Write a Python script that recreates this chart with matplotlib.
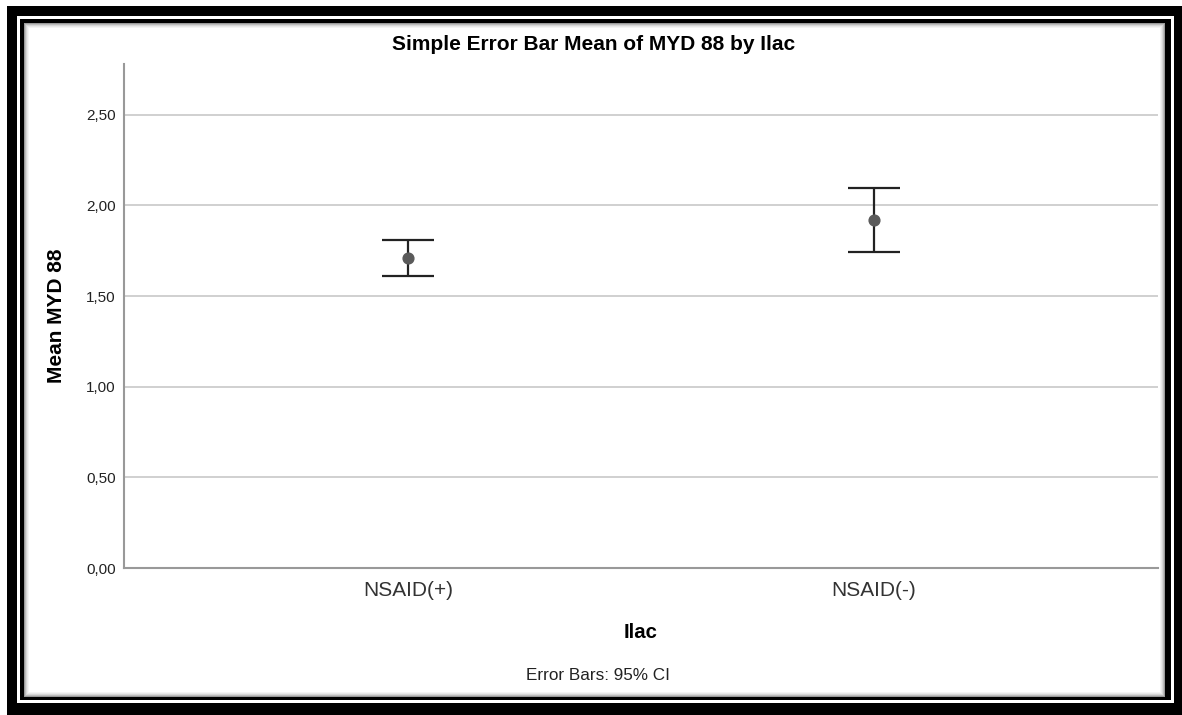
import matplotlib.pyplot as plt
from matplotlib.patches import Rectangle

plt.rcParams['font.family'] = ['Liberation Sans', 'DejaVu Sans']

groups = ['NSAID(+)', 'NSAID(-)']
means = [1.711, 1.918]
ci_low = [1.612, 1.742]
ci_high = [1.808, 2.097]
yticks = [0.0, 0.5, 1.0, 1.5, 2.0, 2.5]
ytick_labels = ['0,00', '0,50', '1,00', '1,50', '2,00', '2,50']

fig = plt.figure(figsize=(11.82, 7.15), dpi=100)

# picture frame: thick black, thin white, thin black, soft shadow
W, H = 1182, 715
def frame(x0, y0, x1, y1, color, z):
  fig.patches.append(Rectangle((x0 / W, 1 - y1 / H), (x1 - x0) / W, (y1 - y0) / H,
                               transform=fig.transFigure, facecolor=color,
                               edgecolor='none', zorder=z))
frame(7, 6, 1182, 715, 'black', -10)
frame(17, 16, 1174, 703, 'white', -9)
frame(20, 19, 1171, 700, 'black', -8)
shade = ['#9a9a9a', '#bcbcbc', '#d6d6d6', '#e8e8e8', '#f4f4f4', 'white']
for i, c in enumerate(shade):
  frame(24 + i, 23 + i, 1165 - i, 697 - i, c, -7 + i)

ax = fig.add_axes([124 / W, 1 - 568 / H, (1158 - 124) / W, (568 - 64) / H])
ax.set_facecolor('none')
x = list(range(len(groups)))
lower = [m - l for m, l in zip(means, ci_low)]
upper = [h - m for m, h in zip(means, ci_high)]
ax.errorbar(x, means, yerr=[lower, upper], fmt='none', ecolor='#222222',
            elinewidth=1.6, capsize=18.4, capthick=1.6, zorder=3)
ax.scatter(x, means, s=60, color='#5a5a5a', zorder=4)

ax.set_ylim(0, 2.78)
ax.set_xlim(-0.609, 1.609)
ax.set_yticks(yticks)
ax.set_yticklabels(ytick_labels, fontsize=11, color='#222222')
ax.set_xticks(x)
ax.set_xticklabels(groups, fontsize=15, color='#333333')
ax.tick_params(axis='x', length=0, pad=9)
ax.tick_params(axis='y', length=0, pad=6)
ax.yaxis.grid(True, color='#c8c8c8', linewidth=1.2)
ax.set_axisbelow(True)
for s in ['top', 'right']:
  ax.spines[s].set_visible(False)
for s in ['left', 'bottom']:
  ax.spines[s].set_color('#999999')
  ax.spines[s].set_linewidth(1.5)

ax.set_ylabel('Mean MYD 88', fontsize=15, fontweight='bold', va='center')
ax.yaxis.set_label_coords((57 - 124) / 1034, 0.5)
ax.set_xlabel('Ilac', fontsize=14.7, fontweight='bold', va='center')
ax.xaxis.set_label_coords((641 - 124) / 1034, -(633 - 568) / 504)
fig.text(594 / W, 1 - 45 / H, 'Simple Error Bar Mean of MYD 88 by Ilac',
         ha='center', va='center', fontsize=15, fontweight='bold')
fig.text(598 / W, 1 - 675 / H, 'Error Bars: 95% CI', ha='center', va='center',
         fontsize=12.3, color='#222222')

fig.savefig('out.png', dpi=100)
